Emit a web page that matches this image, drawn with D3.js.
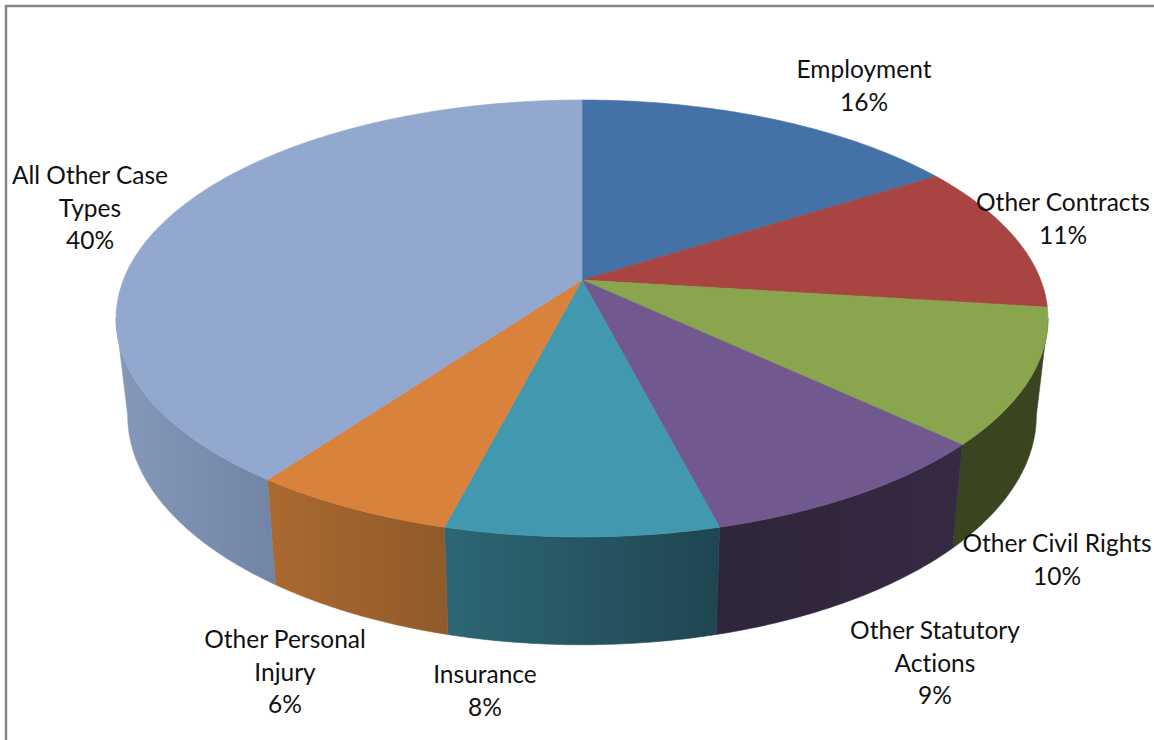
<!DOCTYPE html>
<html>
<head>
<meta charset="utf-8">
<script src="https://cdn.jsdelivr.net/npm/d3@7"></script>
<style>
  html, body { margin: 0; padding: 0; background: #fff; }
  svg { display: block; }
  text { font-family: Lato, "Open Sans", sans-serif; font-size: 24.5px; fill: #111; font-variant-ligatures: none; }
</style>
</head>
<body>
<svg id="chart" width="1154" height="740"></svg>
<script>
// Case types, clockwise from twelve o'clock
const categories = ["Employment", "Other Contracts", "Other Civil Rights", "Other Statutory Actions", "Insurance", "Other Personal Injury", "All Other Case Types"];
const shares = [16, 11, 10, 9, 8, 6, 40];

// Wrapped label lines for each category
const labelLines = [["Employment"], ["Other Contracts"], ["Other Civil Rights"], ["Other Statutory", "Actions"], ["Insurance"], ["Other Personal", "Injury"], ["All Other Case", "Types"]];
const labelCentreX = [864, 1063, 1057, 935, 485, 285, 90];
const labelFirstY = [78, 211, 552, 639, 683, 648, 184];
const lineStep = 32.6;

const topColours = ["#4472a6", "#a84543", "#89a54e", "#71588f", "#4198af", "#d9823c", "#92a8ce"];
const wallLeft = ["#2a4668", "#693030", "#3a4420", "#2f253a", "#2d6675", "#ab692f", "#8799ba"];
const wallRight = ["#2a4668", "#693030", "#3a4420", "#352a42", "#1f4650", "#905a2a", "#7184a5"];

// Tilted-disc perspective: the apex sits above the ellipse centre because the rear recedes
const apex = { x: 582, y: 280 };
const radiusX = 458.7, radiusY = 211.7, recede = 0.176;
function onDisc(angle) {
  const u = Math.sin(angle), v = Math.cos(angle), w = 1 + recede * v;
  return [apex.x + radiusX * u / w, apex.y - radiusY * v / w];
}
// Lower rim of the disc: slightly narrower and pushed down by the thickness
const dropY = 95, stretchY = 1.05, shrinkX = 0.975;
function onRim(angle) {
  const [x, y] = onDisc(angle);
  return [apex.x + (x - apex.x) * shrinkX, y + dropY + (stretchY - 1) * (y - apex.y)];
}

const svg = d3.select("#chart");
const defs = svg.append("defs");
const line = d3.line();

const arcs = d3.pie().sort(null).value(d => d)(shares);
const sampleArc = (a0, a1, fn) => d3.range(0, 61).map(i => fn(a0 + (a1 - a0) * i / 60));

// Chart frame, open on the right and the bottom
svg.append("path").attr("d", "M6,740V6H1154").attr("fill", "none").attr("stroke", "#868686").attr("stroke-width", 2.5);

// Front wall of the disc, only between the two silhouette angles
const wallStart = Math.acos(-recede), wallEnd = 2 * Math.PI - wallStart;
arcs.forEach((d, i) => {
  const a0 = Math.max(d.startAngle, wallStart), a1 = Math.min(d.endAngle, wallEnd);
  if (a1 <= a0) return;
  const upper = sampleArc(a0, a1, onDisc), lower = sampleArc(a0, a1, onRim);
  const xs = upper.concat(lower).map(p => p[0]);
  const grad = defs.append("linearGradient").attr("id", "wall" + i)
    .attr("gradientUnits", "userSpaceOnUse")
    .attr("x1", d3.min(xs)).attr("x2", d3.max(xs)).attr("y1", 0).attr("y2", 0);
  grad.append("stop").attr("offset", 0).attr("stop-color", wallLeft[i]);
  grad.append("stop").attr("offset", 1).attr("stop-color", wallRight[i]);
  svg.append("path")
    .attr("d", line(upper.concat(lower.reverse())) + "Z")
    .attr("fill", `url(#wall${i})`)
    .attr("stroke", `url(#wall${i})`).attr("stroke-width", 0.6);
});

// Top face
arcs.forEach((d, i) => {
  const rim = sampleArc(d.startAngle, d.endAngle, onDisc);
  svg.append("path")
    .attr("d", line([[apex.x, apex.y], ...rim]) + "Z")
    .attr("fill", topColours[i])
    .attr("stroke", topColours[i]).attr("stroke-width", 0.6);
});

// Labels: name lines, then the share
const percent = d3.format(".0f");
categories.forEach((c, i) => {
  const rows = [...labelLines[i], percent(shares[i]) + "%"];
  rows.forEach((row, r) => {
    svg.append("text")
      .attr("x", labelCentreX[i])
      .attr("y", labelFirstY[i] + r * lineStep)
      .attr("text-anchor", "middle")
      .text(row);
  });
});
</script>
</body>
</html>
